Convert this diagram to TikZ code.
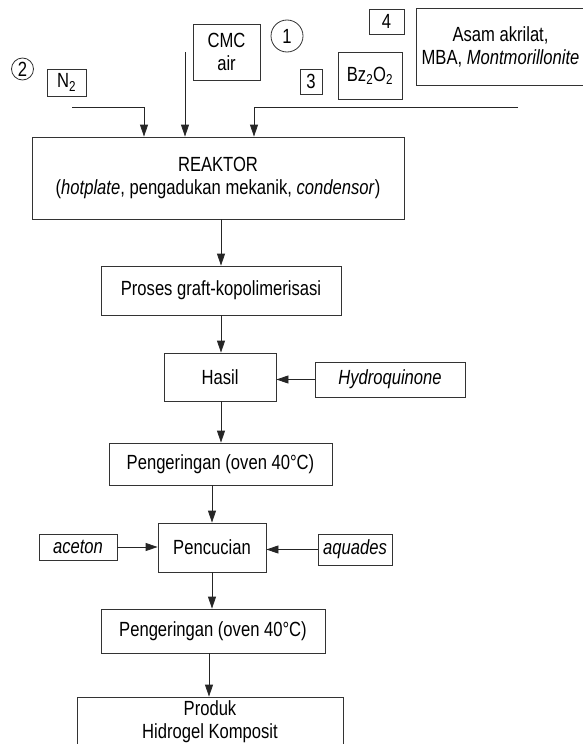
\documentclass[tikz,border=0pt]{standalone}
\usepackage{fontspec}
\setmainfont[FakeStretch=0.81]{Liberation Sans}
\usetikzlibrary{arrows.meta}
\begin{document}
\begin{tikzpicture}[x=1pt,y=-1pt,
  font=\fontsize{20.5}{23}\selectfont,
  box/.style={draw=black!80, line width=0.8pt, rectangle, inner sep=0pt, align=center},
  circ/.style={draw=black!80, line width=0.8pt, circle, inner sep=0pt},
  arr/.style={draw=black!85, line width=0.8pt, -{Triangle[length=12pt,width=8pt]}},
  ln/.style={draw=black!85, line width=0.8pt}]
\useasboundingbox (0,0) rectangle (583,744);
% inputs
\node[circ, minimum size=22pt] (c2) at (22.5,69) {2};
\node[box, minimum width=39pt, minimum height=27pt] (n2) at (66.5,82.5) {N\textsubscript{2}};
\node[box, minimum width=67pt, minimum height=56pt] (cmc) at (226.5,52) {CMC\\air};
\node[circ, minimum size=32pt] (c1) at (287,36) {1};
\node[box, minimum width=22pt, minimum height=25pt] (b3) at (311,81.5) {3};
\node[box, minimum width=64pt, minimum height=47pt] (bz) at (370,75.5) {Bz\textsubscript{2}O\textsubscript{2}};
\node[box, minimum width=35pt, minimum height=25pt] (b4) at (386.5,21.5) {4};
\node[box, minimum width=169pt, minimum height=77pt] (asam) at (500.5,46.5) {Asam akrilat,\\MBA, \textit{Montmorillonite}};
% main column
\node[box, minimum width=372pt, minimum height=82pt] (reaktor) at (218,178) {REAKTOR\\(\textit{hotplate}, pengadukan mekanik, \textit{condensor})};
\node[box, minimum width=240pt, minimum height=49pt] (proses) at (221,290.5) {Proses graft-kopolimerisasi};
\node[box, minimum width=112pt, minimum height=48pt] (hasil) at (220,377) {Hasil};
\node[box, minimum width=150pt, minimum height=35pt] (hydro) at (390,379.5) {\textit{Hydroquinone}};
\node[box, minimum width=223pt, minimum height=42pt] (peng1) at (220.5,464) {Pengeringan (oven 40°C)};
\node[box, minimum width=108pt, minimum height=49pt] (pencuci) at (212,547.5) {Pencucian};
\node[box, minimum width=78pt, minimum height=26pt] (aceton) at (78,547) {\textit{aceton}};
\node[box, minimum width=74pt, minimum height=31pt] (aquades) at (355,549.5) {\textit{aquades}};
\node[box, minimum width=224pt, minimum height=44pt] (peng2) at (213,631) {Pengeringan (oven 40°C)};
\node[box, minimum width=266pt, minimum height=50pt] (produk) at (210,722) {Produk\\Hidrogel Komposit};
% feed lines
\coordinate (ln2) at (72,107);
\coordinate (a1) at (144,107);
\coordinate (lcmc) at (185,52);
\coordinate (lr) at (518,107);
\coordinate (a3) at (254,107);
\draw[arr] (ln2) -- (a1) -- (a1 |- reaktor.north);
\draw[arr] (lcmc) -- (lcmc |- reaktor.north);
\draw[arr] (lr) -- (a3) -- (a3 |- reaktor.north);
% flow
\draw[arr] (reaktor.south -| proses.north) -- (proses.north);
\draw[arr] (proses.south) -- (proses.south |- hasil.north);
\draw[arr] (hydro.west) -- (hydro.west -| hasil.east);
\draw[arr] (hasil.south -| proses.south) -- (proses.south |- peng1.north);
\draw[arr] (pencuci.north |- peng1.south) -- (pencuci.north);
\draw[arr] (aceton.east) -- (aceton.east -| pencuci.west);
\draw[arr] (aquades.west) -- (aquades.west -| pencuci.east);
\draw[arr] (pencuci.south) -- (pencuci.south |- peng2.north);
\draw[arr] ([xshift=-4pt]peng2.south) -- ([xshift=-4pt]peng2.south |- produk.north);
\end{tikzpicture}
\end{document}
